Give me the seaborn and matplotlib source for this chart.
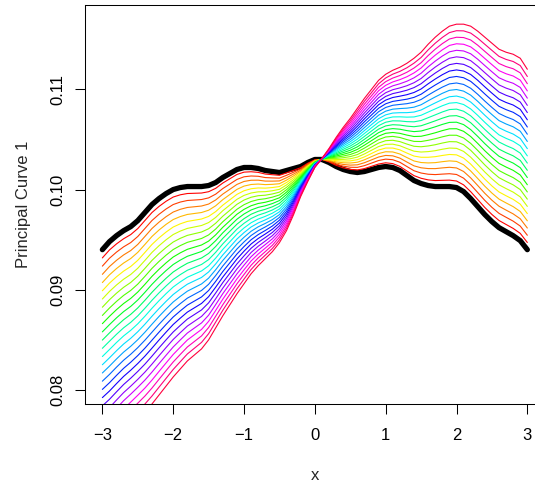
import colorsys

import matplotlib
matplotlib.use("Agg")
import matplotlib.pyplot as plt
import numpy as np
import pandas as pd
import seaborn as sns

# Grid on which the curves are evaluated (step 0.1 from -3 to 3)
x_grid = [-3.0, -2.9, -2.8, -2.7, -2.6, -2.5, -2.4, -2.3, -2.2, -2.1,
          -2.0, -1.9, -1.8, -1.7, -1.6, -1.5, -1.4, -1.3, -1.2, -1.1,
          -1.0, -0.9, -0.8, -0.7, -0.6, -0.5, -0.4, -0.3, -0.2, -0.1,
          0.0, 0.1, 0.2, 0.3, 0.4, 0.5, 0.6, 0.7, 0.8, 0.9,
          1.0, 1.1, 1.2, 1.3, 1.4, 1.5, 1.6, 1.7, 1.8, 1.9,
          2.0, 2.1, 2.2, 2.3, 2.4, 2.5, 2.6, 2.7, 2.8, 2.9, 3.0]

# Mean curve (thick black line)
mean_curve = [0.0940, 0.0948, 0.0954, 0.0959, 0.0963, 0.0969, 0.0977, 0.0985, 0.0991, 0.0996,
              0.1000, 0.1002, 0.1003, 0.1003, 0.1003, 0.1004, 0.1007, 0.1012, 0.1016, 0.1020,
              0.1022, 0.1022, 0.1021, 0.1019, 0.1018, 0.1017, 0.1019, 0.1021, 0.1023, 0.1027,
              0.1030, 0.1030, 0.1027, 0.1023, 0.1020, 0.1018, 0.1017, 0.1018, 0.1020, 0.1022,
              0.1023, 0.1022, 0.1019, 0.1014, 0.1009, 0.1006, 0.1004, 0.1003, 0.1003, 0.1003,
              0.1002, 0.0998, 0.0991, 0.0983, 0.0975, 0.0968, 0.0962, 0.0958, 0.0954, 0.0949, 0.0940]

# Curve at the largest perturbation along the component
last_curve = [0.0735, 0.0741, 0.0749, 0.0757, 0.0764, 0.0771, 0.0778, 0.0786, 0.0795, 0.0804,
              0.0813, 0.0821, 0.0829, 0.0835, 0.0841, 0.0850, 0.0862, 0.0874, 0.0885, 0.0896,
              0.0906, 0.0916, 0.0924, 0.0931, 0.0938, 0.0947, 0.0959, 0.0975, 0.0993, 0.1008,
              0.1022, 0.1031, 0.1041, 0.1052, 0.1062, 0.1071, 0.1081, 0.1091, 0.1100, 0.1109,
              0.1115, 0.1119, 0.1122, 0.1126, 0.1131, 0.1137, 0.1145, 0.1152, 0.1158, 0.1163,
              0.1165, 0.1165, 0.1163, 0.1158, 0.1152, 0.1146, 0.1140, 0.1137, 0.1135, 0.1131, 0.1120]

# Perturbation steps, one coloured curve each
steps = [1, 2, 3, 4, 5, 6, 7, 8, 9, 10, 11, 12, 13, 14, 15, 16, 17, 18, 19,
         20, 21, 22, 23, 24, 25]

x_ticks = [-3, -2, -1, 0, 1, 2, 3]
x_tick_labels = ["\u22123", "\u22122", "\u22121", "0", "1", "2", "3"]
y_ticks = [0.08, 0.09, 0.10, 0.11]
y_tick_labels = ["0.08", "0.09", "0.10", "0.11"]

sns.set_theme(style="white")
plt.rcParams["font.family"] = ["Liberation Sans", "DejaVu Sans"]
plt.rcParams["axes.unicode_minus"] = True

xg = np.array(x_grid)
mean_arr = np.array(mean_curve)
diff_arr = np.array(last_curve) - mean_arr
n_steps = len(steps)

frames = []
for k in steps:
    frames.append(pd.DataFrame({
        "x": xg,
        "y": mean_arr + k / n_steps * diff_arr,
        "curve": k,
    }))
family = pd.concat(frames, ignore_index=True)
palette = {k: colorsys.hsv_to_rgb((k - 1) / n_steps, 1.0, 1.0) for k in steps}

mean_df = pd.DataFrame({"x": xg, "y": mean_arr})

fig = plt.figure(figsize=(5.35, 4.87), dpi=100)
ax = fig.add_axes([85.3 / 535, (487 - 404) / 487, (544.4 - 85.3) / 535, (404 - 5.3) / 487])

sns.lineplot(data=mean_df, x="x", y="y", ax=ax, color="black", linewidth=3.8,
             solid_capstyle="round", solid_joinstyle="round", sort=False)
sns.lineplot(data=family, x="x", y="y", hue="curve", palette=palette, ax=ax,
             linewidth=0.8, legend=False, sort=False, estimator=None)

ax.set_xlim(-3.241, 3.241)
ax.set_ylim(0.078603, 0.118383)
ax.set_xticks(x_ticks)
ax.set_xticklabels(x_tick_labels)
ax.set_yticks(y_ticks)
ax.set_yticklabels(y_tick_labels, rotation=90, va="center")
ax.tick_params(axis="both", direction="out", length=7, width=0.75, color="black",
               labelsize=12, labelcolor="black", left=True, bottom=True)
ax.tick_params(axis="x", pad=10)
ax.tick_params(axis="y", pad=7)
for side in ["left", "bottom", "top", "right"]:
    ax.spines[side].set_visible(True)
    ax.spines[side].set_color("black")
    ax.spines[side].set_linewidth(0.75)
ax.set_xlabel("x", fontsize=12, labelpad=18)
ax.set_ylabel("Principal Curve 1", fontsize=12, labelpad=14)
ax.grid(False)

fig.savefig("out.png", dpi=100)
